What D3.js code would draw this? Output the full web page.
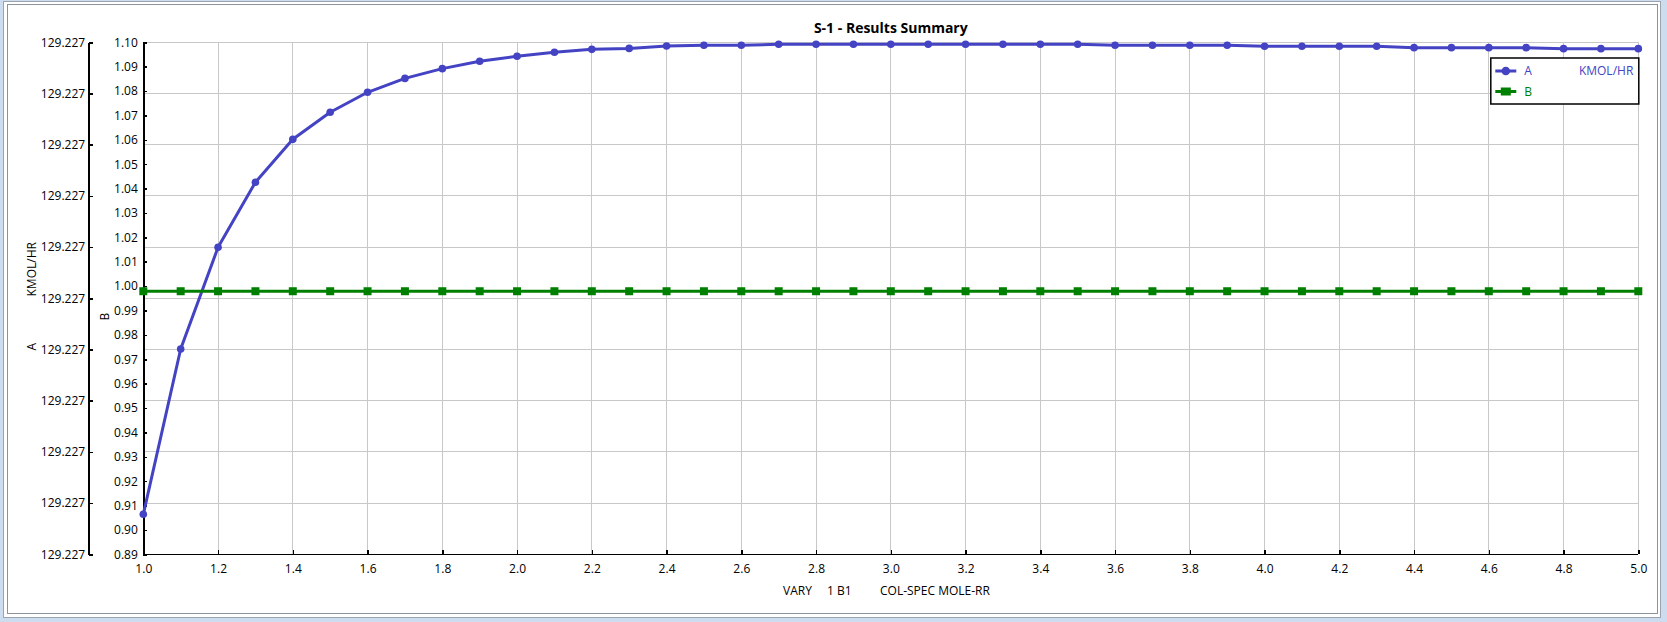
<html><head>
<title>S-1 - Results Summary</title>
<script src="https://d3js.org/d3.v7.min.js"></script>
<style>
  body { margin: 0; background: #cddcee; }
  svg { display: block; }
  text { font-family: "Open Sans", "Noto Sans", sans-serif; font-size: 12px; fill: #000; }
  .axis path, .axis line { stroke: #000; stroke-width: 1.5; shape-rendering: crispEdges; }
  .grid line { stroke: #c8c8c8; stroke-width: 1; shape-rendering: crispEdges; }
</style>
</head>
<body>
<svg id="chart" width="1667" height="622"></svg>

<script>
// ---- data ----
const varyValues = [1.0, 1.1, 1.2, 1.3, 1.4, 1.5, 1.6, 1.7, 1.8, 1.9,
                    2.0, 2.1, 2.2, 2.3, 2.4, 2.5, 2.6, 2.7, 2.8, 2.9,
                    3.0, 3.1, 3.2, 3.3, 3.4, 3.5, 3.6, 3.7, 3.8, 3.9,
                    4.0, 4.1, 4.2, 4.3, 4.4, 4.5, 4.6, 4.7, 4.8, 4.9, 5.0];

const seriesA = [0.9064, 0.9742, 1.0159, 1.0426, 1.0602, 1.0713, 1.0795, 1.0852, 1.0892, 1.0922,
                 1.0943, 1.0959, 1.0971, 1.0975, 1.0985, 1.0988, 1.0988, 1.0992, 1.0992, 1.0992,
                 1.0992, 1.0992, 1.0992, 1.0992, 1.0992, 1.0992, 1.0988, 1.0988, 1.0988, 1.0988,
                 1.0984, 1.0984, 1.0984, 1.0984, 1.0978, 1.0978, 1.0978, 1.0978, 1.0974, 1.0974, 1.0974];

const seriesB = [0.9979, 0.9979, 0.9979, 0.9979, 0.9979, 0.9979, 0.9979, 0.9979, 0.9979, 0.9979,
                 0.9979, 0.9979, 0.9979, 0.9979, 0.9979, 0.9979, 0.9979, 0.9979, 0.9979, 0.9979,
                 0.9979, 0.9979, 0.9979, 0.9979, 0.9979, 0.9979, 0.9979, 0.9979, 0.9979, 0.9979,
                 0.9979, 0.9979, 0.9979, 0.9979, 0.9979, 0.9979, 0.9979, 0.9979, 0.9979, 0.9979, 0.9979];

const xTicks = [1.0, 1.2, 1.4, 1.6, 1.8, 2.0, 2.2, 2.4, 2.6, 2.8, 3.0,
                3.2, 3.4, 3.6, 3.8, 4.0, 4.2, 4.4, 4.6, 4.8, 5.0];
const bTicks = [0.89, 0.90, 0.91, 0.92, 0.93, 0.94, 0.95, 0.96, 0.97, 0.98, 0.99,
                1.00, 1.01, 1.02, 1.03, 1.04, 1.05, 1.06, 1.07, 1.08, 1.09, 1.10];
// left (A) axis: every tick prints the same rounded value
const aTickLabels = ["129.227", "129.227", "129.227", "129.227", "129.227", "129.227",
                     "129.227", "129.227", "129.227", "129.227", "129.227"];

const titleText = "S-1 - Results Summary";
const blue = "#4343c4", green = "#008000";

// ---- layout ----
const svg = d3.select("#chart");
const W = 1667, H = 622;
const plot = { left: 143.3, right: 1638.3, top: 42.3, bottom: 554.3 };
const aAxisX = 88.7;

// window frame
svg.append("rect").attr("x", 3.5).attr("y", 1.5).attr("width", 1657).attr("height", 616)
   .attr("fill", "#fff").attr("stroke", "#9aa3ae");
svg.append("rect").attr("x", 7.5).attr("y", 4.5).attr("width", 1650).attr("height", 609)
   .attr("fill", "#fff").attr("stroke", "#8c939c");

// scales
let xScale = d3.scaleLinear().domain([1, 5]).range([plot.left, plot.right]);
let yScale = d3.scaleLinear().domain([0.89, 1.10]).range([plot.bottom, plot.top]);
let aScale = d3.scaleLinear().domain([0, aTickLabels.length - 1]).range([plot.bottom, plot.top]);

// grid: vertical at x ticks, horizontal at A-axis ticks
let grid = svg.append("g").attr("class", "grid");
grid.selectAll("line.v").data(xTicks).join("line").attr("class", "v")
    .attr("x1", d => xScale(d)).attr("x2", d => xScale(d))
    .attr("y1", plot.top).attr("y2", plot.bottom);
grid.selectAll("line.h").data(d3.range(aTickLabels.length)).join("line").attr("class", "h")
    .attr("x1", plot.left).attr("x2", plot.right)
    .attr("y1", d => aScale(d)).attr("y2", d => aScale(d));

// axes
svg.append("g").attr("class", "axis")
   .attr("transform", `translate(0,${plot.bottom})`)
   .call(d3.axisBottom(xScale).tickValues(xTicks).tickFormat(d3.format(".1f"))
           .tickSizeInner(-4).tickSizeOuter(0).tickPadding(10.5))
   .call(g => g.select(".domain").attr("d", `M${plot.left},0H${plot.right}`));

svg.append("g").attr("class", "axis")
   .attr("transform", `translate(${plot.left},0)`)
   .call(d3.axisLeft(yScale).tickValues(bTicks).tickFormat(d3.format(".2f"))
           .tickSizeInner(-4).tickSizeOuter(0).tickPadding(5.5));

svg.append("g").attr("class", "axis")
   .attr("transform", `translate(${aAxisX},0)`)
   .call(d3.axisLeft(aScale).tickValues(d3.range(aTickLabels.length))
           .tickFormat(i => aTickLabels[i])
           .tickSizeInner(-4).tickSizeOuter(0).tickPadding(3.5));

svg.selectAll(".axis text").style("font-size", "12px");

// axis titles
let aTitle = svg.append("text")
   .attr("transform", "translate(31.7,350.5) rotate(-90)")
   .attr("dy", "0.35em");
aTitle.append("tspan").text("A");
aTitle.append("tspan").attr("x", 54).text("KMOL/HR");

svg.append("text")
   .attr("transform", "translate(104.3,320.5) rotate(-90)")
   .attr("dy", "0.35em")
   .text("B");

let xTitle = svg.append("text").attr("y", 595);
xTitle.append("tspan").attr("x", 783).text("VARY");
xTitle.append("tspan").attr("x", 827).text("1 B1");
xTitle.append("tspan").attr("x", 880).text("COL-SPEC MOLE-RR");

svg.append("text")
   .attr("x", (plot.left + plot.right) / 2).attr("y", 33)
   .attr("text-anchor", "middle")
   .style("font-size", "14px").style("font-weight", "bold")
   .text(titleText);

// series
let lineGen = d3.line().x(d => xScale(d[0])).y(d => yScale(d[1]));
let dataA = varyValues.map((v, i) => [v, seriesA[i]]);
let dataB = varyValues.map((v, i) => [v, seriesB[i]]);

svg.append("path").datum(dataA)
   .attr("d", lineGen).attr("fill", "none")
   .attr("stroke", blue).attr("stroke-width", 3).attr("stroke-linejoin", "round");
svg.selectAll("circle.a").data(dataA).join("circle").attr("class", "a")
   .attr("cx", d => xScale(d[0])).attr("cy", d => yScale(d[1]))
   .attr("r", 3.8).attr("fill", blue);

svg.append("path").datum(dataB)
   .attr("d", lineGen).attr("fill", "none")
   .attr("stroke", green).attr("stroke-width", 3);
svg.selectAll("rect.b").data(dataB).join("rect").attr("class", "b")
   .attr("x", d => xScale(d[0]) - 4).attr("y", d => yScale(d[1]) - 4)
   .attr("width", 8).attr("height", 8).attr("fill", green);

// legend
let legend = svg.append("g").attr("transform", `translate(${plot.right - 148},58)`);
legend.append("rect").attr("x", 0.5).attr("y", 0).attr("width", 148).attr("height", 46)
      .attr("fill", "#fff").attr("stroke", "#000").attr("stroke-width", 1.5);

legend.append("line").attr("x1", 5).attr("x2", 26).attr("y1", 13).attr("y2", 13)
      .attr("stroke", blue).attr("stroke-width", 3);
legend.append("circle").attr("cx", 15.5).attr("cy", 13).attr("r", 4.3).attr("fill", blue);
legend.append("text").attr("x", 34).attr("y", 13).attr("dy", "0.35em")
      .style("fill", blue).text("A");
legend.append("text").attr("x", 143).attr("y", 13).attr("dy", "0.35em")
      .attr("text-anchor", "end").style("fill", blue).text("KMOL/HR");

legend.append("line").attr("x1", 5).attr("x2", 26).attr("y1", 33.5).attr("y2", 33.5)
      .attr("stroke", green).attr("stroke-width", 3);
legend.append("rect").attr("x", 10.5).attr("y", 29.5).attr("width", 10).attr("height", 8)
      .attr("fill", green);
legend.append("text").attr("x", 34).attr("y", 33.5).attr("dy", "0.35em")
      .style("fill", green).text("B");
</script>
</body>
</html>
